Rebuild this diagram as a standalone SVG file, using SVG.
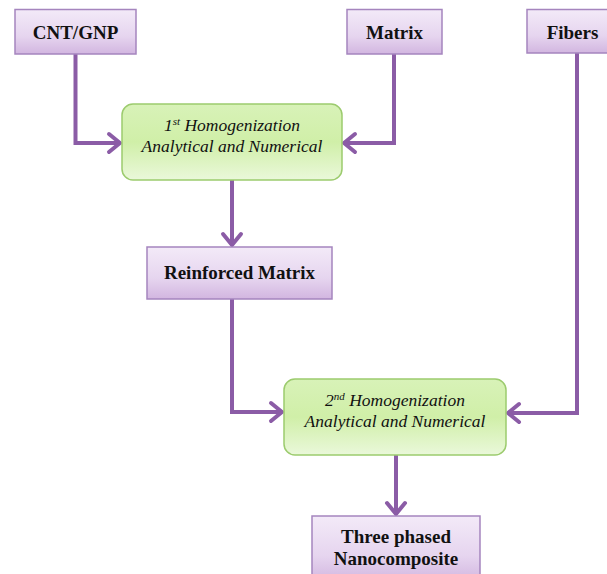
<svg xmlns="http://www.w3.org/2000/svg" width="607" height="574" viewBox="0 0 607 574">
<defs>
<linearGradient id="gp" x1="0" y1="0" x2="0" y2="1">
<stop offset="0" stop-color="#F3EAF8"/>
<stop offset="0.6" stop-color="#E6D5EF"/>
<stop offset="1" stop-color="#D2B6E0"/>
</linearGradient>
<linearGradient id="gg" x1="0" y1="0" x2="0" y2="1">
<stop offset="0" stop-color="#D8F2B8"/>
<stop offset="0.5" stop-color="#D0EFA8"/>
<stop offset="1" stop-color="#EAF8DA"/>
</linearGradient>
<marker id="ah" markerUnits="userSpaceOnUse" markerWidth="20" markerHeight="24" refX="14" refY="11" orient="auto" viewBox="0 0 20 22">
<path d="M3,2 L14,11 L3,20" fill="none" stroke="#8B5CA6" stroke-width="4" stroke-linecap="round" stroke-linejoin="round"/>
</marker>
<style>
.pb{fill:url(#gp);stroke:#A585BE;stroke-width:1.5}
.gb{fill:url(#gg);stroke:#9CCB6E;stroke-width:1.5}
.bt{font-family:"Liberation Serif","Times New Roman",serif;font-weight:bold;font-size:19px;fill:#111;text-anchor:middle}
.it{font-family:"Liberation Serif","Times New Roman",serif;font-style:italic;font-size:17.5px;fill:#111;text-anchor:middle}
.cn{fill:none;stroke:#8B5CA6;stroke-width:4;stroke-linejoin:miter}
</style>
</defs>
<g id="connectors">
<path class="cn" d="M75.5,54 V143 H120" marker-end="url(#ah)"/>
<path class="cn" d="M394,54 V143 H344" marker-end="url(#ah)"/>
<path class="cn" d="M232,180 V245" marker-end="url(#ah)"/>
<path class="cn" d="M232,299 V412 H282" marker-end="url(#ah)"/>
<path class="cn" d="M577,53 V413 H508" marker-end="url(#ah)"/>
<path class="cn" d="M396,455 V514" marker-end="url(#ah)"/>
</g>
<g id="cnt">
<rect class="pb" x="15" y="9.5" width="121" height="44.5"/>
<text class="bt" x="75.5" y="38.5">CNT/GNP</text>
</g>
<g id="matrix">
<rect class="pb" x="347" y="9.5" width="95" height="44.5"/>
<text class="bt" x="394.5" y="38.5">Matrix</text>
</g>
<g id="fibers">
<rect class="pb" x="527" y="9.5" width="95" height="43.5"/>
<text class="bt" x="572.5" y="38.5">Fibers</text>
</g>
<g id="hom1">
<rect class="gb" x="122" y="104" width="220" height="76" rx="11"/>
<text class="it" x="232" y="131">1<tspan font-size="11" dy="-6">st</tspan><tspan dy="6"> Homogenization</tspan></text>
<text class="it" x="232" y="152">Analytical and Numerical</text>
</g>
<g id="reinforced">
<rect class="pb" x="147" y="247" width="185" height="52"/>
<text class="bt" x="239.5" y="279">Reinforced Matrix</text>
</g>
<g id="hom2">
<rect class="gb" x="284" y="379" width="222" height="76" rx="11"/>
<text class="it" x="395" y="406">2<tspan font-size="11" dy="-6">nd</tspan><tspan dy="6"> Homogenization</tspan></text>
<text class="it" x="395" y="427">Analytical and Numerical</text>
</g>
<g id="three">
<rect class="pb" x="312" y="516" width="168" height="66"/>
<text class="bt" x="396" y="543">Three phased</text>
<text class="bt" x="396" y="565">Nanocomposite</text>
</g>
</svg>
